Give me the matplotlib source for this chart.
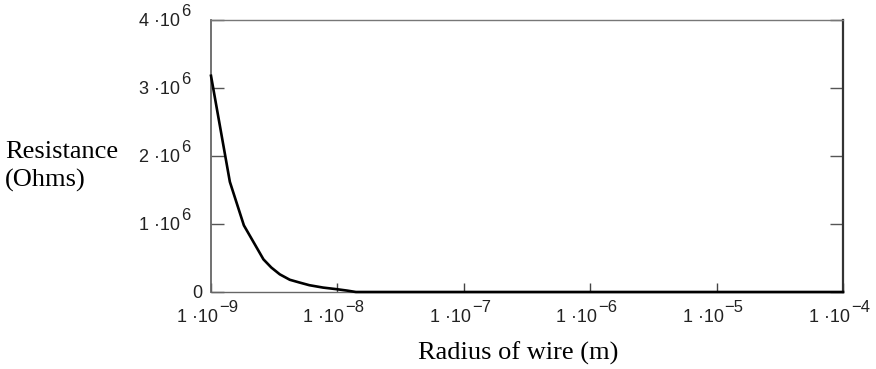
import numpy as np
import matplotlib
matplotlib.use('Agg')
import matplotlib.pyplot as plt
from matplotlib.ticker import FixedLocator, NullFormatter, NullLocator

plt.rcParams['font.family'] = ['Liberation Sans', 'DejaVu Sans']

# data
radius_m = [1.0e-9, 1.41e-9, 1.82e-9, 2.6e-9, 3.0e-9, 3.5e-9, 4.2e-9, 5.0e-9,
            6.0e-9, 7.7e-9, 1.0e-8, 1.2e-8, 1.4e-8, 1e-7, 1e-6, 1e-5, 1e-4]
resistance_ohm = [3.18e6, 1.62e6, 0.98e6, 0.48e6, 0.36e6, 0.26e6, 0.18e6, 0.14e6,
                  0.10e6, 0.065e6, 0.04e6, 0.02e6, 0.0, 0.0, 0.0, 0.0, 0.0]

x_ticks = [1e-9, 1e-8, 1e-7, 1e-6, 1e-5, 1e-4]
x_exponents = ['−9', '−8', '−7', '−6', '−5', '−4']
y_ticks = [0, 1e6, 2e6, 3e6, 4e6]
y_mantissas = ['0', '1', '2', '3', '4']

fig = plt.figure(figsize=(8.76, 3.69), dpi=100)
ax = fig.add_axes([211 / 876, 1 - 292 / 369, (843 - 211) / 876, (292 - 20) / 369])

ax.plot(radius_m, resistance_ohm, color='black', lw=1.9, solid_joinstyle='miter',
        clip_on=False, zorder=5)

ax.set_xscale('log')
ax.set_xlim(1e-9, 1e-4)
ax.set_ylim(0, 4e6)

ax.xaxis.set_major_locator(FixedLocator(x_ticks))
ax.xaxis.set_major_formatter(NullFormatter())
ax.xaxis.set_minor_locator(NullLocator())
ax.xaxis.set_minor_formatter(NullFormatter())
ax.yaxis.set_major_locator(FixedLocator(y_ticks))
ax.yaxis.set_major_formatter(NullFormatter())

ax.tick_params(axis='x', direction='in', length=6.5, width=1.0, color='#444444')
ax.tick_params(axis='y', direction='in', length=9.5, width=1.0, color='#555555',
               right=True)

for side, c, w in [('left', '#666666', 1.3), ('top', '#777777', 1.0),
                   ('right', '#333333', 1.6), ('bottom', '#666666', 1.0)]:
    ax.spines[side].set_color(c)
    ax.spines[side].set_linewidth(w)

lab_col = '#222222'
# Mathcad style tick labels: "1 ·10" with a large raised exponent
for t, e in zip(x_ticks, x_exponents):
    ax.annotate('1 ·10', xy=(t, 0), xycoords=('data', 'axes fraction'),
                xytext=(7, -25), textcoords='offset pixels', ha='right', va='center',
                fontsize=13, color=lab_col, annotation_clip=False)
    ax.annotate(e, xy=(t, 0), xycoords=('data', 'axes fraction'),
                xytext=(8, -15), textcoords='offset pixels', ha='left', va='center',
                fontsize=12, color=lab_col, annotation_clip=False)

for t, m in zip(y_ticks, y_mantissas):
    if m == '0':
        ax.annotate('0', xy=(0, t), xycoords=('axes fraction', 'data'),
                    xytext=(-14, -2), textcoords='offset pixels', ha='center', va='center',
                    fontsize=13, color=lab_col, annotation_clip=False)
        continue
    ax.annotate(m + ' ·10', xy=(0, t), xycoords=('axes fraction', 'data'),
                xytext=(-31, -2), textcoords='offset pixels', ha='right', va='center',
                fontsize=13, color=lab_col, annotation_clip=False)
    ax.annotate('6', xy=(0, t), xycoords=('axes fraction', 'data'),
                xytext=(-30, 8), textcoords='offset pixels', ha='left', va='center',
                fontsize=12, color=lab_col, annotation_clip=False)

fig.text(518 / 876, 1 - 353 / 369, 'Radius of wire (m)', ha='center', va='center',
         family='Liberation Serif', fontsize=19)
fig.text(5 / 876, 1 - 152 / 369, 'Resistance', ha='left', va='center',
         family='Liberation Serif', fontsize=19)
fig.text(5 / 876, 1 - 180 / 369, '(Ohms)', ha='left', va='center',
         family='Liberation Serif', fontsize=19)

fig.savefig('out.png', dpi=100)
